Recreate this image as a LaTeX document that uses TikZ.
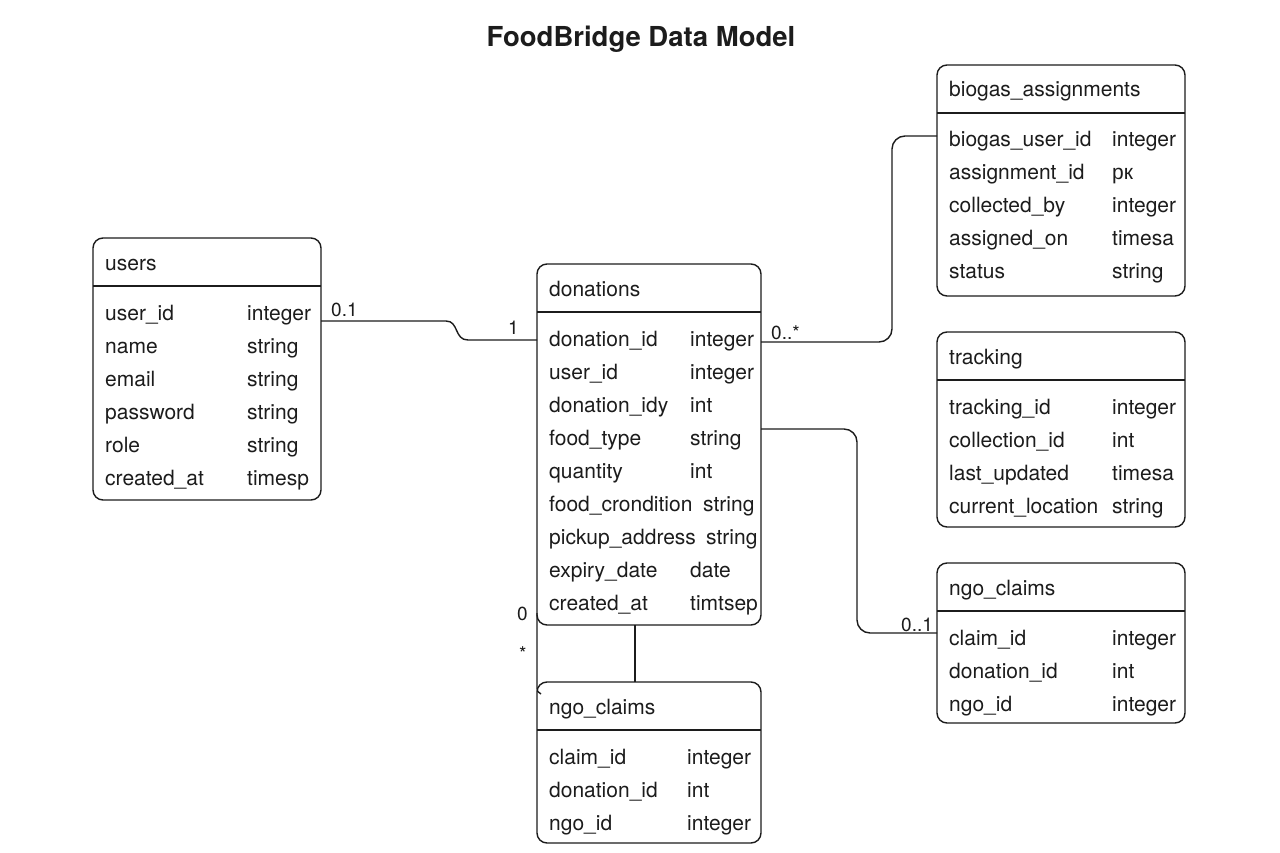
\documentclass[tikz,border=0pt]{standalone}
\usepackage{fontspec}
\setmainfont{TeX Gyre Heros}
\newfontfamily\cyr{Liberation Sans}
\definecolor{ink}{HTML}{1C1C1C}
\newcommand\ent[6]{% id, x, y, w, h, title
  \node[box, minimum width=#4, minimum height=#5] (#1) at (#2,#3) {};
  \draw[rule] ([yshift=-48pt]#1.north west) -- ([yshift=-48pt]#1.north east);
  \node[txt] (#1-title) at ([xshift=12pt,yshift=-32pt]#1.north west) {#6};
}
\newcommand\fld[5]{% id, row, name, type, type offset
  \node[txt] (#1-n#2) at ([xshift=12pt,yshift={-82pt-33pt*(#2-1)}]#1.north west) {#3};
  \node[txt] (#1-v#2) at ([xshift=#5,yshift={-82pt-33pt*(#2-1)}]#1.north west) {#4};
}
\begin{document}
\begin{tikzpicture}[x=1pt,y=-1pt,
  box/.style={draw=ink, line width=1.4pt, rounded corners=10pt, anchor=north west, inner sep=0pt, outer sep=0pt},
  rule/.style={draw=ink, line width=1.4pt},
  txt/.style={anchor=base west, inner sep=0pt, font=\fontsize{21}{24}\selectfont, text=ink},
  lbl/.style={anchor=base west, inner sep=0pt, font=\fontsize{19}{22}\selectfont, text=ink},
  conn/.style={draw=ink, line width=1.4pt, rounded corners=13pt}]
\useasboundingbox (0,0) rectangle (1280,853);
\fill[white] (0,0) rectangle (1280,853);
\node[anchor=base, inner sep=0pt, font=\bfseries\fontsize{27.5}{30}\selectfont, text=ink] (title) at (641,47) {FoodBridge Data Model};

% users
\ent{users}{93}{238}{228pt}{262pt}{users}
\fld{users}{1}{user\_id}{integer}{154pt}
\fld{users}{2}{name}{string}{154pt}
\fld{users}{3}{email}{string}{154pt}
\fld{users}{4}{password}{string}{154pt}
\fld{users}{5}{role}{string}{154pt}
\fld{users}{6}{created\_at}{timesp}{154pt}

% donations
\ent{don}{537}{264}{224pt}{361pt}{donations}
\fld{don}{1}{donation\_id}{integer}{153pt}
\fld{don}{2}{user\_id}{integer}{153pt}
\fld{don}{3}{donation\_idy}{int}{153pt}
\fld{don}{4}{food\_type}{string}{153pt}
\fld{don}{5}{quantity}{int}{153pt}
\fld{don}{6}{food\_crondition}{string}{166pt}
\fld{don}{7}{pickup\_address}{string}{169pt}
\fld{don}{8}{expiry\_date}{date}{153pt}
\fld{don}{9}{created\_at}{timtsep}{153pt}

% biogas_assignments
\ent{bio}{937}{65}{248pt}{231pt}{biogas\_assignments}
\fld{bio}{1}{biogas\_user\_id}{integer}{175pt}
\fld{bio}{2}{assignment\_id}{{\cyr pк}}{175pt}
\fld{bio}{3}{collected\_by}{integer}{175pt}
\fld{bio}{4}{assigned\_on}{timesa}{175pt}
\fld{bio}{5}{status}{string}{175pt}

% tracking
\ent{trk}{937}{332}{248pt}{195pt}{tracking}
\fld{trk}{1}{tracking\_id}{integer}{175pt}
\fld{trk}{2}{collection\_id}{int}{175pt}
\fld{trk}{3}{last\_updated}{timesa}{175pt}
\fld{trk}{4}{current\_location}{string}{175pt}

% ngo_claims (right)
\ent{ngoR}{937}{563}{248pt}{160pt}{ngo\_claims}
\fld{ngoR}{1}{claim\_id}{integer}{175pt}
\fld{ngoR}{2}{donation\_id}{int}{175pt}
\fld{ngoR}{3}{ngo\_id}{integer}{175pt}

% ngo_claims (bottom)
\ent{ngoB}{537}{682}{224pt}{161pt}{ngo\_claims}
\fld{ngoB}{1}{claim\_id}{integer}{150pt}
\fld{ngoB}{2}{donation\_id}{int}{150pt}
\fld{ngoB}{3}{ngo\_id}{integer}{150pt}

% connectors
\draw[rule] (users.east |- 0,321) -- (446,321) .. controls (459,321) and (454,340) .. (468,340) -- (don.west |- 0,340);
\draw[conn] (don.east |- 0,342) -- (892,342) -- (892,136) -- (bio.west |- 0,136);
\draw[conn] (don.east |- 0,429) -- (857,429) -- (857,633) -- (ngoR.west |- 0,633);
\draw[rule] (don.south -| 635,0) -- (ngoB.north -| 635,0);
\draw[rule] ([yshift=12pt]don.south west) -- ([yshift=-6pt]ngoB.north west) .. controls ([yshift=-9pt]ngoB.north west) .. ([xshift=4pt,yshift=-12pt]ngoB.north west);

% multiplicities
\node[lbl] (m1) at (331,316) {0.1};
\node[lbl] (m2) at (508,334) {1};
\node[lbl] (m3) at (771,339) {0..*};
\node[lbl] (m4) at (901,631) {0..1};
\node[lbl] (m5) at (517,620) {0};
\node[lbl] (m6) at (519,660) {*};
\end{tikzpicture}
\end{document}
